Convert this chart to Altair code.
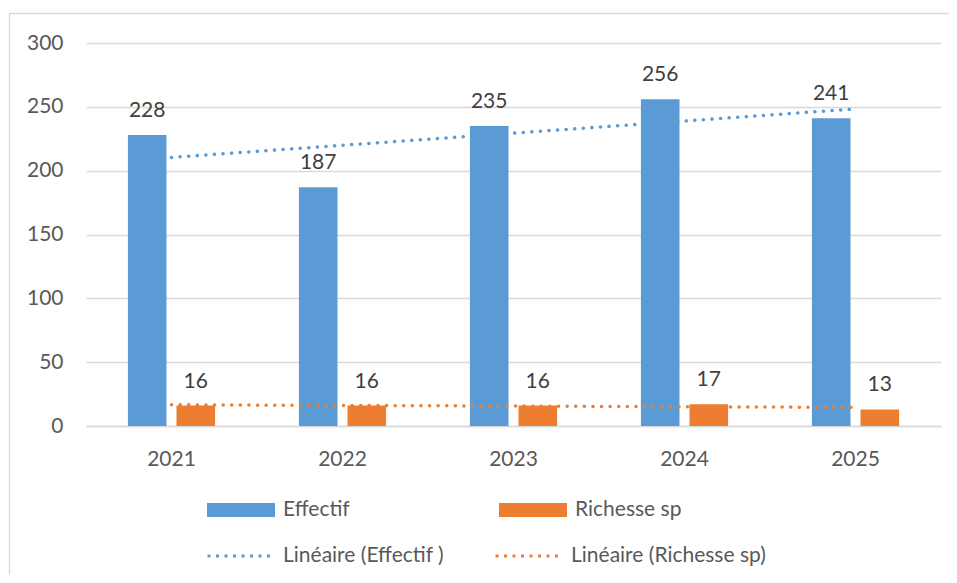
import altair as alt
import pandas as pd

years = [2021, 2022, 2023, 2024, 2025]
effectif = [228, 187, 235, 256, 241]
richesse = [16, 16, 16, 17, 13]
series_names = ["Effectif", "Richesse sp"]
trend_names = ["Linéaire (Effectif )", "Linéaire (Richesse sp)"]
colors = ["#5B9BD5", "#ED7D31"]

rows = []
for i, y in enumerate(years):
    rows.append({"year": y, "series": series_names[0], "value": effectif[i]})
    rows.append({"year": y, "series": series_names[1], "value": richesse[i]})
df = pd.DataFrame(rows)

FONT = "Lato"
FS = 21

x_enc = alt.X("year:O", title=None,
              scale=alt.Scale(paddingInner=0.49, paddingOuter=0.245),
              axis=alt.Axis(labelAngle=0, ticks=False, tickSize=0, domainColor="#D9D9D9",
                            domainWidth=1.3, labelPadding=39, labelBaseline="alphabetic",
                            labelFontSize=FS, labelColor="#595959", labelFont=FONT, grid=False))
xoff = alt.XOffset("series:N", sort=series_names,
                   scale=alt.Scale(paddingInner=0.206, paddingOuter=0))
y_enc = alt.Y("value:Q", title=None,
              scale=alt.Scale(domain=[0, 300], nice=False),
              axis=alt.Axis(values=[0, 50, 100, 150, 200, 250, 300], domain=False, ticks=False,
                            tickSize=0, labelPadding=23, gridColor="#D9D9D9", gridWidth=1.3,
                            labelFontSize=FS, labelColor="#595959", labelFont=FONT))

base = alt.Chart(df)

frame = alt.Chart(pd.DataFrame({"a": [0]})).mark_rect(
    fill="white", fillOpacity=0, stroke="#D9D9D9", strokeWidth=1.3
).encode(x=alt.value(-76.5), x2=alt.value(1000), y=alt.value(-29.5), y2=alt.value(800))

bars = base.mark_bar().encode(
    x=x_enc, xOffset=xoff, y=y_enc,
    fill=alt.Fill("series:N", sort=series_names,
                  scale=alt.Scale(domain=series_names, range=colors),
                  legend=alt.Legend(title=None, orient="none", legendX=121, legendY=433,
                                    direction="horizontal", padding=0,
                                    symbolType="M-1,-0.206H1V0.206H-1Z", symbolSize=4624,
                                    symbolStrokeWidth=0, labelOffset=8, columnPadding=149,
                                    labelLimit=400,
                                    labelFontSize=FS, labelFont=FONT, labelColor="#595959")),
)

lines = base.transform_regression(
    "year", "value", groupby=["series"]
).transform_calculate(
    trend="'Linéaire (' + datum.series + (datum.series == 'Effectif' ? ' )' : ')')"
).mark_line(strokeDash=[0.1, 8.5], strokeCap="round", strokeWidth=3.5).encode(
    x=alt.X("year:O"),
    y=alt.Y("value:Q"),
    stroke=alt.Stroke("trend:N", sort=trend_names,
                      scale=alt.Scale(domain=trend_names, range=colors),
                      legend=alt.Legend(title=None, orient="none", legendX=120, legendY=480,
                                        direction="horizontal", padding=0,
                                        symbolType="M-1,0H1", symbolSize=3969,
                                        symbolStrokeWidth=3, symbolDash=[3, 5.5],
                                        labelOffset=11, columnPadding=44, labelLimit=400,
                                        labelFontSize=FS, labelFont=FONT, labelColor="#595959")),
)

labels = base.mark_text(baseline="alphabetic", dy=-18, fontSize=FS, font=FONT, color="#404040").encode(
    x=alt.X("year:O"), xOffset=xoff, y=alt.Y("value:Q"), text=alt.Text("value:Q"),
)

chart = alt.layer(frame, bars, lines, labels).properties(
    width=855, height=383,
    autosize=alt.AutoSizeParams(type="none"),
    padding={"left": 78, "top": 35, "right": 8, "bottom": 149},
).configure_view(stroke=None)

chart.save("out.html", embed_options={"renderer": "svg", "actions": False})
